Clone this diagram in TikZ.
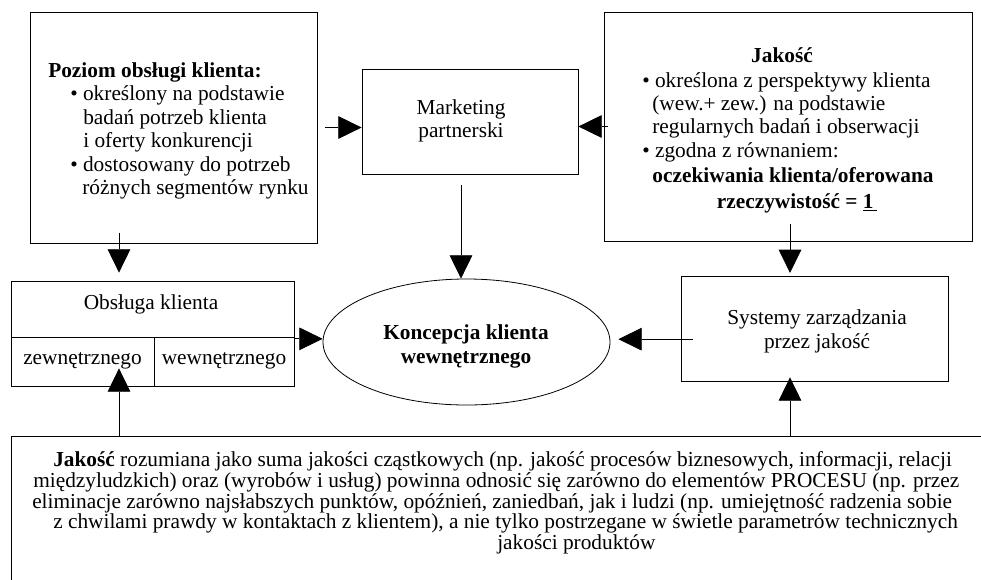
\documentclass[tikz,border=0pt]{standalone}
\usepackage{fontspec}
\setmainfont{Liberation Serif}
\usetikzlibrary{calc,shapes.geometric,arrows.meta}

\tikzset{
	box/.style={draw, line width=0.6pt, inner sep=0pt},
	arr/.style={-{Triangle[width=17pt,length=17.5pt]}, line width=0.6pt},
	txt/.style={font=\fontsize{16}{18}\selectfont, inner sep=0pt},
	lbl/.style={txt, anchor=base west},
	lblc/.style={txt, anchor=base},
}

\begin{document}
\begin{tikzpicture}[x=0.75pt,y=-0.75pt]
	\useasboundingbox (0,0) rectangle (981,579);
	\clip (0,0) rectangle (981,579);

	%boxes
	\node[box, minimum width=215.25pt, minimum height=173.25pt] (poziom) at (173.5,127.5) {};
	\node[box, minimum width=162pt, minimum height=78.75pt] (marketing) at (470,121.5) {};
	\node[box, minimum width=276pt, minimum height=171.75pt] (jakosc) at (788,126.5) {};
	\node[box, minimum width=212.25pt, minimum height=78.75pt] (obsluga) at (152.5,333.5) {};
	\node[box, minimum width=107.25pt, minimum height=36.75pt] (zew) at (82.5,361.5) {};
	\node[box, minimum width=105pt, minimum height=36.75pt] (wew) at (224,361.5) {};
	\node[box, minimum width=200.25pt, minimum height=78.75pt] (systemy) at (814.5,328.5) {};
	\node[box, ellipse, minimum width=215.25pt, minimum height=94.5pt] (koncepcja) at (466.5,342) {};
	\node[box, anchor=north west, minimum width=750pt, minimum height=150pt] (opis) at (11,436) {};

	%texts
	\node[lbl] (p1) at (48,77)    {\textbf{Poziom obsługi klienta:}};
	\node[lbl] (p2) at (70,100.5) {• określony na podstawie};
	\node[lbl] (p3) at (83,124)   {badań potrzeb klienta};
	\node[lbl] (p4) at (83,147.5) {i oferty konkurencji};
	\node[lbl] (p5) at (70,171)   {• dostosowany do potrzeb};
	\node[lbl] (p6) at (82,194.5) {różnych segmentów rynku};
	%
	\node[lblc] (m1) at (461,114) {Marketing};
	\node[lblc] (m2) at (461,137) {partnerski};
	%
	\node[lblc] (j1) at (782,62)  {\textbf{Jakość}};
	\node[lbl]  (j2) at (642,87)  {• określona z perspektywy klienta};
	\node[lbl]  (j3) at (652,110) {(wew.+ zew.) na podstawie};
	\node[lbl]  (j4) at (652,133) {regularnych badań i obserwacji};
	\node[lbl]  (j5) at (642,157) {• zgodna z równaniem:};
	\node[lblc] (j6) at (793,182) {\textbf{oczekiwania klienta/oferowana}};
	\node[lblc] (j7) at (797,208) {\textbf{rzeczywistość = \underline{1\,}}};
	%
	\node[lblc] (o1) at (151,309)   {Obsługa klienta};
	\node[lblc] (o2) at (82.5,364)  {zewnętrznego};
	\node[lblc] (o3) at (224,364)   {wewnętrznego};
	%
	\node[lblc] (k1) at (466,339) {\textbf{Koncepcja klienta}};
	\node[lblc] (k2) at (466,363) {\textbf{wewnętrznego}};
	%
	\node[lblc] (s1) at (817,324) {Systemy zarządzania};
	\node[lblc] (s2) at (817,348) {przez jakość};
	%
	\node[lbl] (b1) at (53,466)  {\textbf{Jakość} rozumiana jako suma jakości cząstkowych (np. jakość procesów biznesowych, informacji, relacji};
	\node[lbl] (b2) at (33,487)  {międzyludzkich) oraz (wyrobów i usług) powinna odnosić się zarówno do elementów PROCESU (np. przez};
	\node[lbl] (b3) at (32,508)  {eliminacje zarówno najsłabszych punktów, opóźnień, zaniedbań, jak i ludzi (np. umiejętność radzenia sobie};
	\node[lbl] (b4) at (53,528)  {z chwilami prawdy w kontaktach z klientem), a nie tylko postrzegane w świetle parametrów technicznych};
	\node[lbl] (b5) at (497,549) {jakości produktów};

	%arrows
	\coordinate (lcol) at (119,0);
	\coordinate (mcol) at (461,0);
	\coordinate (rcol) at (790,0);
	\draw[arr] ([xshift=6pt]poziom.east) -- (poziom.east -| marketing.west);
	\draw[arr] ([xshift=3pt]jakosc.west) -- (jakosc.west -| marketing.east);
	\draw[arr] ([yshift=7.5pt]poziom.south -| lcol) -- ([yshift=6pt]obsluga.north -| lcol);
	\draw[arr] ([yshift=-8pt]marketing.south -| mcol) -- (koncepcja.north -| mcol);
	\draw[arr] ([yshift=12.75pt]jakosc.south -| rcol) -- ([yshift=2pt]systemy.north -| rcol);
	\draw[arr] ([yshift=-4pt]obsluga.east) -- ([yshift=-4pt]obsluga.east -| koncepcja.west);
	\draw[arr] ([xshift=9pt,yshift=-8pt]systemy.west) -- ([xshift=6pt,yshift=-8pt]systemy.west -| koncepcja.east);
	\draw[arr] (opis.north -| lcol) -- ([yshift=13.5pt]obsluga.south -| lcol);
	\draw[arr] (opis.north -| rcol) -- ([yshift=3pt]systemy.south -| rcol);
\end{tikzpicture}
\end{document}
